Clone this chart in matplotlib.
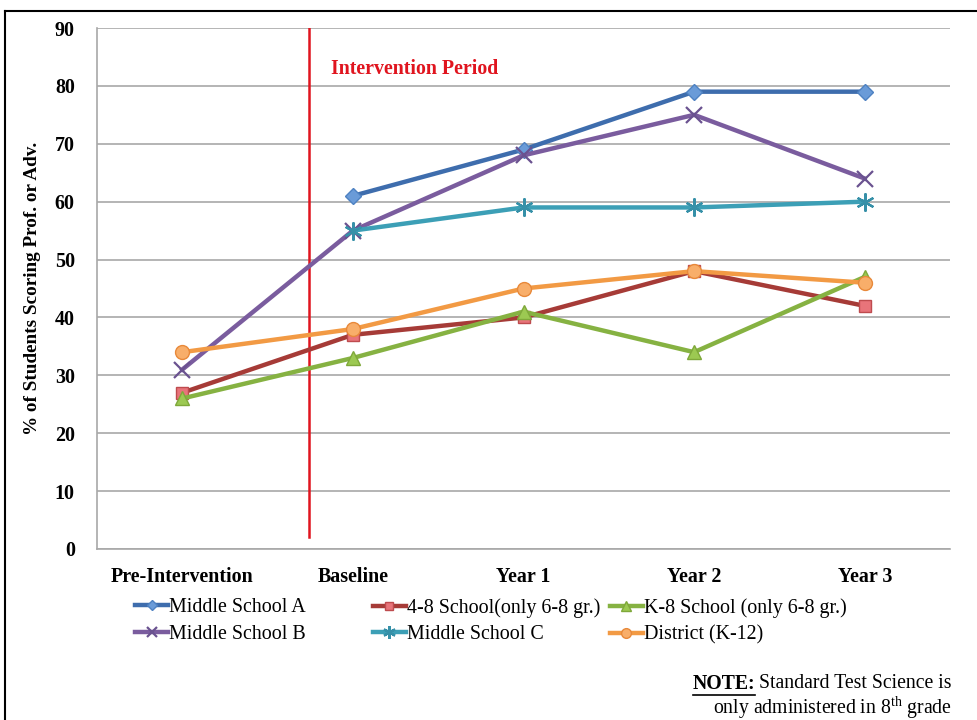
import matplotlib
matplotlib.use("Agg")
import matplotlib.pyplot as plt
from matplotlib.lines import Line2D
import numpy as np

plt.rcParams['font.family'] = ['Liberation Serif', 'DejaVu Serif']
plt.rcParams['mathtext.fontset'] = 'custom'
plt.rcParams['mathtext.rm'] = 'Liberation Serif'

# Data
periods = ['Pre-Intervention', 'Baseline', 'Year 1', 'Year 2', 'Year 3']
ms_a = [np.nan, 61, 69, 79, 79]
school_48 = [27, 37, 40, 48, 42]
school_k8 = [26, 33, 41, 34, 47]
ms_b = [31, 55, 68, 75, 64]
ms_c = [np.nan, 55, 59, 59, 60]
district = [34, 38, 45, 48, 46]

yticks = list(range(0, 91, 10))
intervention_x = 0.74

fig = plt.figure(figsize=(9.78, 7.2), dpi=100)
ax = fig.add_axes([97 / 978, 1 - 549 / 720, 853 / 978, 521 / 720])

x = np.arange(len(periods))

series = [
    ('Middle School A', ms_a, dict(color='#3E6DAD', marker='D', ms=8, mfc='#6A9BD8', mec='#4E82C2')),
    ('Middle School B', ms_b, dict(color='#7A5C9E', marker='x', ms=11, mew=1.6, mec='#6A5290')),
    ('4-8 School(only 6-8 gr.)', school_48, dict(color='#A63B37', marker='s', ms=9, mfc='#E8747A', mec='#BE4B4E')),
    ('Middle School C', ms_c, dict(color='#3C9FB6', marker=(6, 2, 0), ms=13, mew=1.6, mec='#3690A8')),
    ('K-8 School (only 6-8 gr.)', school_k8, dict(color='#86B242', marker='^', ms=10, mfc='#9CC952', mec='#7FA83A')),
    ('District (K-12)', district, dict(color='#F29A44', marker='o', ms=10, mfc='#F8AE6A', mec='#E8893A')),
]
lines = []
for label, vals, style in series:
    ln, = ax.plot(x, vals, lw=3.2, label=label, **style)
    lines.append(ln)

ax.plot([intervention_x, intervention_x], [2, 90], color='#E0141E', lw=1.8, zorder=1)
ax.text(intervention_x + 0.13, 82.9, 'Intervention Period', color='#E0141E',
        fontsize=14.3, fontweight='bold', va='center', ha='left')

ax.set_xlim(-0.5, 4.5)
ax.set_ylim(0, 90)
ax.set_xticks(x)
ax.set_xticklabels(periods, fontsize=14.4, fontweight='bold')
ax.set_yticks(yticks)
ax.set_yticklabels([str(t) for t in yticks], fontsize=14.4, fontweight='bold')
ax.tick_params(length=0, pad=16)
ax.tick_params(axis='x', pad=13)
ax.yaxis.grid(True, color='#A8A8A8', lw=1.2)
ax.set_axisbelow(True)
for s in ['top', 'right']:
    ax.spines[s].set_visible(False)
for s in ['left', 'bottom']:
    ax.spines[s].set_color('#A8A8A8')
    ax.spines[s].set_linewidth(1.2)

ax.set_ylabel('% of Students Scoring Prof. or Adv.', fontsize=13.8, fontweight='bold', labelpad=10)

# legend: three fixed-width columns like the original
col_x = [135, 373, 610]
for i, cx in enumerate(col_x):
    leg = fig.legend(handles=lines[2 * i:2 * i + 2], loc='upper left',
                     bbox_to_anchor=(cx / 978, 1 - 598 / 720), ncol=1,
                     frameon=False, fontsize=14.4, handlelength=1.65, handletextpad=0.05,
                     labelspacing=0.38, borderaxespad=0, borderpad=0, markerscale=0.7)

# note in the lower right corner
fig.canvas.draw()
r = fig.canvas.get_renderer()
t1 = fig.text(952 / 978, 1 - 684 / 720, 'Standard Test Science is', fontsize=14.2,
              ha='right', va='center')
fig.text(952 / 978, 1 - 708 / 720, r'only administered in 8$^{\mathrm{th}}$ grade', fontsize=14.2,
         ha='right', va='center')
bb = t1.get_window_extent(r)
t0 = fig.text((bb.x0 - 4) / 978, 1 - 684 / 720, 'NOTE:', fontsize=14.2, fontweight='bold',
              ha='right', va='center')
bb0 = t0.get_window_extent(r)
fig.add_artist(Line2D([bb0.x0 / 978, bb0.x1 / 978], [(bb0.y0 - 1) / 720] * 2, color='black', lw=1.2))

# frame edges of the original screenshot
fig.add_artist(Line2D([5 / 978, 978 / 978], [1 - 11 / 720] * 2, color='black', lw=1.5))
fig.add_artist(Line2D([5 / 978, 5 / 978], [1 - 11 / 720, 0], color='black', lw=1.5))

fig.savefig('out.png', dpi=100)
